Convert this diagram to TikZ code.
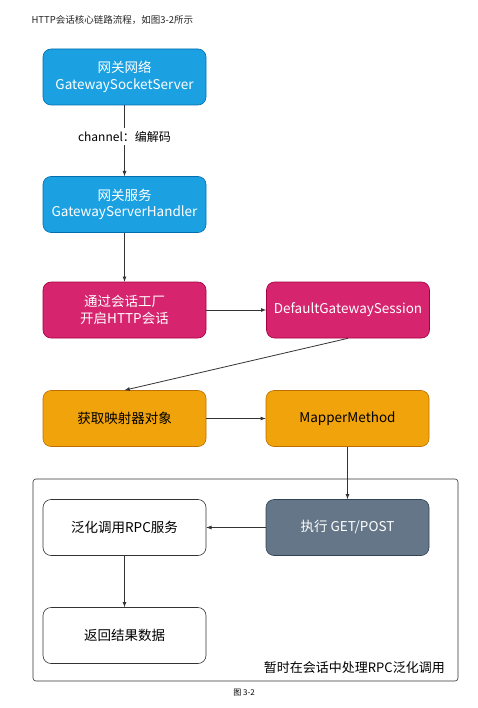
\documentclass[tikz,border=0pt]{standalone}
\usepackage{fontspec}
\setmainfont{Noto Sans CJK SC}
\definecolor{netblue}{HTML}{1BA1E2}
\definecolor{netblueline}{HTML}{006EAF}
\definecolor{sesspink}{HTML}{D6246E}
\definecolor{sesspinkline}{HTML}{A50040}
\definecolor{mapamber}{HTML}{F0A30A}
\definecolor{mapamberline}{HTML}{BD7000}
\definecolor{runslate}{HTML}{647687}
\definecolor{runslateline}{HTML}{314354}
\definecolor{linegray}{HTML}{333333}
\begin{document}
\begin{tikzpicture}[x=1pt, y=-1pt, >=latex,
	box/.style={rounded corners=8pt, minimum width=163pt, minimum height=56pt,
		align=center, font=\fontsize{13.5}{16.5}\selectfont, line width=0.6pt},
	bluebox/.style={box, fill=netblue, draw=netblueline, text=white},
	pinkbox/.style={box, fill=sesspink, draw=sesspinkline, text=white},
	amberbox/.style={box, fill=mapamber, draw=mapamberline, text=black},
	slatebox/.style={box, fill=runslate, draw=runslateline, text=white},
	plainbox/.style={box, fill=white, draw=linegray, text=black},
	flow/.style={->, draw=linegray, line width=0.8pt}]
	% 1. 画布与标题
	\useasboundingbox[fill=white] (0,0) rectangle (477,708);
	\node[anchor=west, font=\fontsize{9.5}{11}\selectfont, text=black!85] (title) at (28,20) {HTTP会话核心链路流程，如图3-2所示};
	
	% 2. 会话处理区域（外框）
	\node[draw=linegray, rounded corners=3pt, line width=0.6pt, minimum width=425pt, minimum height=202pt] (sess) at (245.5,580) {};
	\node[anchor=south east, font=\fontsize{13}{15}\selectfont] (sesslbl) at ([xshift=-10pt, yshift=4pt]sess.south east) {暂时在会话中处理RPC泛化调用};
	
	% 3. 各步骤节点
	\node[bluebox] (net) at (124.5,77) {网关网络\\GatewaySocketServer};
	\node[bluebox] (srv) at (124.5,204.5) {网关服务\\GatewayServerHandler};
	\node[pinkbox] (fac) at (124.5,310) {通过会话工厂\\开启HTTP会话};
	\node[pinkbox] (dgs) at (348,310) {DefaultGatewaySession};
	\node[amberbox] (map) at (124.5,418.5) {获取映射器对象};
	\node[amberbox] (mm) at (347.5,418.5) {MapperMethod};
	\node[plainbox] (rpc) at (124.5,527.5) {泛化调用RPC服务};
	\node[slatebox] (exe) at (347.5,527.5) {执行 GET/POST};
	\node[plainbox] (ret) at (124.5,635.5) {返回结果数据};
	
	% 4. 连线
	\draw[flow] (net) -- node[fill=white, font=\fontsize{12}{14}\selectfont, pos=0.44] (chan) {channel：编解码} (srv);
	\draw[flow] (srv) -- (fac);
	\draw[flow] (fac) -- (dgs);
	\draw[flow] (dgs.south) -- (map.north);
	\draw[flow] (map) -- (mm);
	\draw[flow] (mm) -- (exe);
	\draw[flow] (exe) -- (rpc);
	\draw[flow] (rpc) -- (ret);
	
	% 5. 图注
	\node[font=\fontsize{8}{10}\selectfont] (cap) at (244,693) {图 3-2};
\end{tikzpicture}
\end{document}
